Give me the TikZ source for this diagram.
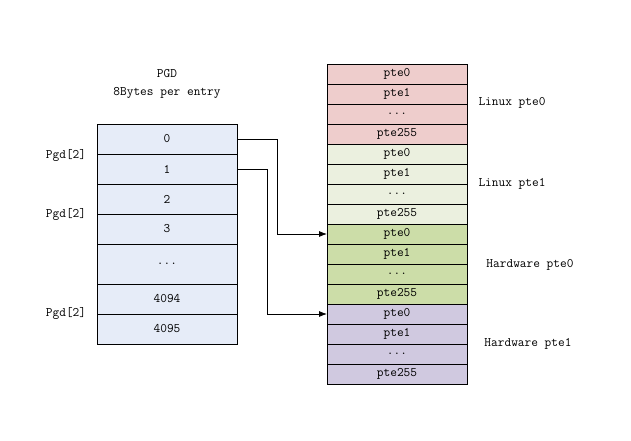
\documentclass[tikz,border=0pt]{standalone}
\usepackage{tikz}
\usetikzlibrary{positioning, arrows.meta}

\definecolor{pgdblue}{HTML}{E6ECF8}
\definecolor{lxpink}{HTML}{EECDCC}
\definecolor{lxgreen}{HTML}{EBF0DF}
\definecolor{hwgreen}{HTML}{CCDDA8}
\definecolor{hwpurple}{HTML}{D0C9E0}

\begin{document}
\begin{tikzpicture}[x=1pt, y=1pt, line width=0.8pt, font=\fontsize{13}{18}\selectfont\ttfamily,
    pgd/.style = {draw, fill=pgdblue, minimum width=140pt, minimum height=30pt, inner sep=0pt, outer sep=0pt},
    pte/.style = {draw, minimum width=140pt, minimum height=20pt, inner sep=0pt, outer sep=0pt}]
    \useasboundingbox (0,0) rectangle (631,440);

    \node[align=center] (title) at (167,356) {PGD\\8Bytes per entry};

    \node[pgd] (p0) at (167,301) {0};
    \node[pgd] (p1) [below=0pt of p0] {1};
    \node[pgd] (p2) [below=0pt of p1] {2};
    \node[pgd] (p3) [below=0pt of p2] {3};
    \node[pgd, minimum height=40pt] (pdots) [below=0pt of p3] {...};
    \node[pgd] (p4094) [below=0pt of pdots] {4094};
    \node[pgd] (p4095) [below=0pt of p4094] {4095};

    \node (g1) at (66,285) {Pgd[2]};
    \node (g2) at (66,226) {Pgd[2]};
    \node (g3) at (66,127) {Pgd[2]};

    \node[pte, fill=lxpink] (r0) at (397,366) {pte0};
    \node[pte, fill=lxpink] (r1) [below=0pt of r0] {pte1};
    \node[pte, fill=lxpink] (r2) [below=0pt of r1] {...};
    \node[pte, fill=lxpink] (r3) [below=0pt of r2] {pte255};
    \node[pte, fill=lxgreen] (r4) [below=0pt of r3] {pte0};
    \node[pte, fill=lxgreen] (r5) [below=0pt of r4] {pte1};
    \node[pte, fill=lxgreen] (r6) [below=0pt of r5] {...};
    \node[pte, fill=lxgreen] (r7) [below=0pt of r6] {pte255};
    \node[pte, fill=hwgreen] (r8) [below=0pt of r7] {pte0};
    \node[pte, fill=hwgreen] (r9) [below=0pt of r8] {pte1};
    \node[pte, fill=hwgreen] (r10) [below=0pt of r9] {...};
    \node[pte, fill=hwgreen] (r11) [below=0pt of r10] {pte255};
    \node[pte, fill=hwpurple] (r12) [below=0pt of r11] {pte0};
    \node[pte, fill=hwpurple] (r13) [below=0pt of r12] {pte1};
    \node[pte, fill=hwpurple] (r14) [below=0pt of r13] {...};
    \node[pte, fill=hwpurple] (r15) [below=0pt of r14] {pte255};

    \node (lx0) at (512,337) {Linux pte0};
    \node (lx1) at (512,256) {Linux pte1};
    \node (hw0) at (530,175) {Hardware pte0};
    \node (hw1) at (528,96) {Hardware pte1};

    \draw[-{Latex[length=8pt,width=6pt]}] (p0.east) -- ++(40,0) |- (r8.west);
    \draw[-{Latex[length=8pt,width=6pt]}] (p1.east) -- ++(30,0) |- (r12.west);

\end{tikzpicture}
\end{document}
